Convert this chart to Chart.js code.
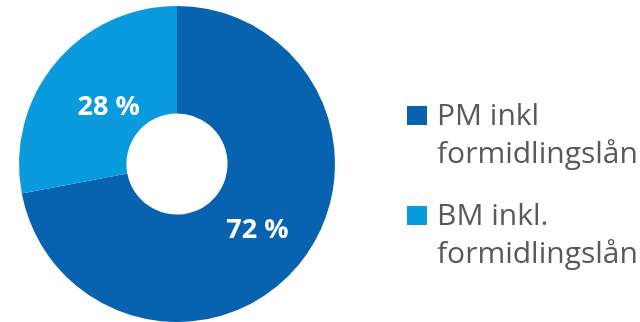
<!DOCTYPE html>
<html>
<head>
<meta charset="utf-8">
<script src="https://cdn.jsdelivr.net/npm/chart.js@4"></script>
<style>
  html, body { margin: 0; padding: 0; background: #fff; }
  #wrap { width: 640px; height: 322px; position: relative; }
</style>
</head>
<body>
<div id="wrap"><canvas id="donut"></canvas></div>
<script>
  const labels = [["PM inkl", "formidlingslån"], ["BM inkl.", "formidlingslån"]];
  const shares = [72, 28];
  const colors = ["#0762AF", "#0A9BDF"];

  // value labels inside slices + two-line legend on the right
  const overlay = {
    id: "overlay",
    afterDatasetsDraw(chart) {
      const ctx = chart.ctx;
      const meta = chart.getDatasetMeta(0);
      ctx.save();
      ctx.fillStyle = "#fff";
      ctx.font = "bold 27px 'Open Sans'";
      ctx.textAlign = "center";
      ctx.textBaseline = "middle";
      meta.data.forEach(function (arc, i) {
        const p = arc.tooltipPosition();
        // pull the small slice label a bit toward the hole like the original
        const f = i === 1 ? 0.85 : 1;
        const x = arc.x + (p.x - arc.x) * f;
        const y = arc.y + (p.y - arc.y) * f;
        ctx.fillText(shares[i] + " %", x, y);
      });

      // legend
      ctx.textAlign = "left";
      ctx.textBaseline = "alphabetic";
      ctx.font = "30px 'Open Sans'";
      labels.forEach(function (lines, i) {
        const top = 106 + i * 100;
        ctx.fillStyle = colors[i];
        ctx.fillRect(407, top, 20, 19);
        ctx.fillStyle = "#595959";
        lines.forEach(function (t, j) {
          ctx.fillText(t, 437, top + 19 + j * 38);
        });
      });
      ctx.restore();
    }
  };

  new Chart(document.getElementById("donut"), {
    type: "doughnut",
    data: {
      labels: labels,
      datasets: [{
        data: shares,
        backgroundColor: colors,
        borderWidth: 0
      }]
    },
    options: {
      responsive: true,
      maintainAspectRatio: false,
      animation: false,
      cutout: "32%",
      layout: { padding: { left: 9, right: 295, top: 6, bottom: 0 } },
      plugins: {
        legend: { display: false },
        tooltip: { enabled: false }
      }
    },
    plugins: [overlay]
  });
</script>
</body>
</html>
